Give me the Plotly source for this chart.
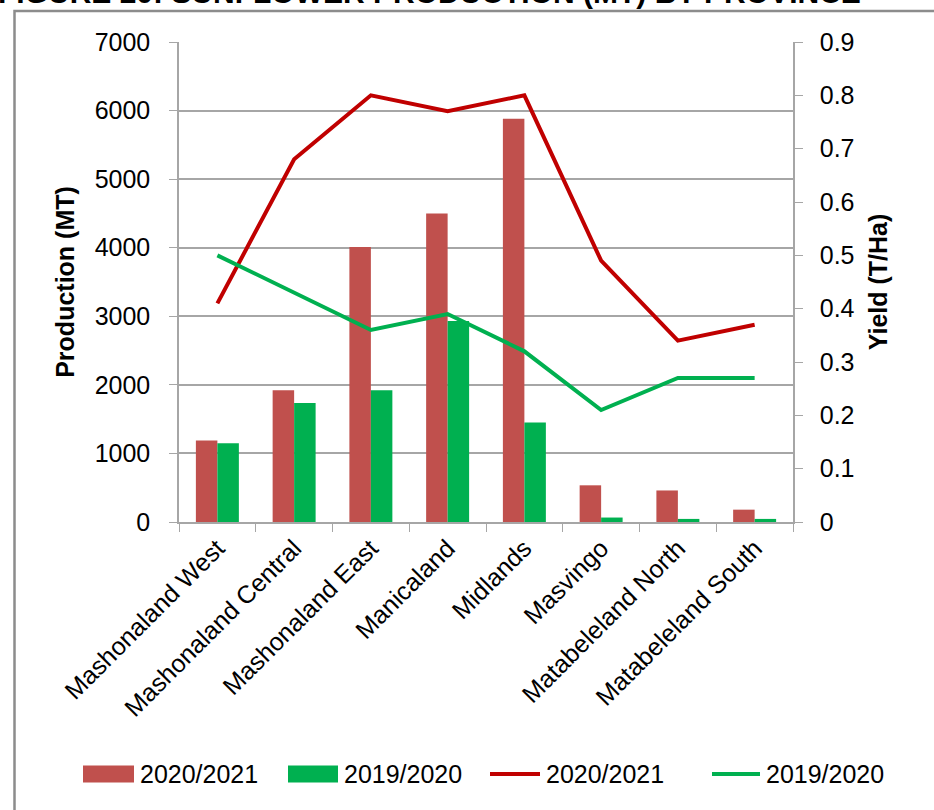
import plotly.graph_objects as go

provinces = ["Mashonaland West", "Mashonaland Central", "Mashonaland East", "Manicaland",
             "Midlands", "Masvingo", "Matabeleland North", "Matabeleland South"]
prod_2021 = [1190, 1920, 4010, 4500, 5880, 535, 460, 180]
prod_2020 = [1150, 1735, 1920, 2930, 1450, 65, 45, 45]
yield_2021 = [0.41, 0.68, 0.80, 0.77, 0.80, 0.49, 0.34, 0.37]
yield_2020 = [0.50, 0.43, 0.36, 0.39, 0.32, 0.21, 0.27, 0.27]
legend_labels = ["2020/2021", "2019/2020", "2020/2021", "2019/2020"]
title_text = "FIGURE 20: SUNFLOWER PRODUCTION (MT) BY PROVINCE"

FONT = "Liberation Sans, Arial, sans-serif"
GRID = "#a6a6a6"
C_BAR21, C_BAR20 = "#C0504D", "#00B050"
C_LN21, C_LN20 = "#C00000", "#00B050"

# plot area in pixels
L, R, T, B = 179, 793, 42, 522
W, H = 934, 810
pw, ph = R - L, B - T

def px(x):
    return (x - L) / pw

def py(y):
    return (B - y) / ph

fig = go.Figure()
fig.add_trace(go.Bar(x=provinces, y=prod_2021, name=legend_labels[0], marker_color=C_BAR21,
                     marker_line_width=0))
fig.add_trace(go.Bar(x=provinces, y=prod_2020, name=legend_labels[1], marker_color=C_BAR20,
                     marker_line_width=0))
fig.add_trace(go.Scatter(x=provinces, y=yield_2021, name=legend_labels[2], mode="lines",
                         line=dict(color=C_LN21, width=4), yaxis="y2"))
fig.add_trace(go.Scatter(x=provinces, y=yield_2020, name=legend_labels[3], mode="lines",
                         line=dict(color=C_LN20, width=4), yaxis="y2"))

fig.update_layout(
    width=W, height=H,
    margin=dict(l=L, r=W - R, t=T, b=H - B, autoexpand=False),
    paper_bgcolor="white", plot_bgcolor="white",
    font=dict(family=FONT, size=25, color="black"),
    barmode="group", bargap=0.44, bargroupgap=0,
    showlegend=False,
    xaxis=dict(type="category", tickangle=-45, showline=True, linecolor=GRID, linewidth=1.5,
               ticks="outside", tickson="boundaries", ticklen=8, tickcolor=GRID,
               showgrid=False, tickfont=dict(size=25), automargin=False),
    yaxis=dict(range=[0, 7000], dtick=1000, showline=True, linecolor=GRID, linewidth=1.5,
               ticks="outside", ticklen=8, tickcolor=GRID, showgrid=True, gridcolor=GRID,
               gridwidth=1.5, tickfont=dict(size=25), ticklabelstandoff=14, automargin=False,
               title=dict(text="<b>Production (MT)</b>", font=dict(size=25), standoff=13),
               zeroline=False),
    yaxis2=dict(range=[0, 0.9], dtick=0.1, overlaying="y", side="right", showline=True,
                linecolor=GRID, linewidth=1.5, ticks="outside", ticklen=8, tickcolor=GRID,
                showgrid=False, tickfont=dict(size=25), ticklabelstandoff=12,
                tickformat="~g", automargin=False,
                title=dict(text="<b>Yield (T/Ha)</b>", font=dict(size=25), standoff=16),
                zeroline=False),
)

fig.add_annotation(text="<b>" + title_text + "</b>", xref="paper", yref="paper",
                   x=px(-4), y=py(11), xanchor="left", yanchor="bottom",
                   showarrow=False, font=dict(size=30, family=FONT, color="black"))

fig.add_shape(type="path", xref="paper", yref="paper",
              path=f"M {px(14.5)} {py(900)} L {px(14.5)} {py(11)} L {px(960)} {py(11)}",
              line=dict(color="#8c8c8c", width=2.5), layer="below")

# manual legend (bar swatches are rectangles, line swatches are strokes)
legend_y = 774
swatches = [(83, 134, "bar", C_BAR21), (288, 338, "bar", C_BAR20),
            (490, 540, "line", C_LN21), (712, 760, "line", C_LN20)]
for (x0, x1, kind, col), label in zip(swatches, legend_labels):
    if kind == "bar":
        fig.add_shape(type="rect", xref="paper", yref="paper",
                      x0=px(x0), x1=px(x1), y0=py(legend_y + 8.5), y1=py(legend_y - 8.5),
                      fillcolor=col, line=dict(width=0))
    else:
        fig.add_shape(type="line", xref="paper", yref="paper",
                      x0=px(x0), x1=px(x1), y0=py(legend_y), y1=py(legend_y),
                      line=dict(color=col, width=4))
    fig.add_annotation(text=label, xref="paper", yref="paper", x=px(x1 + 4), y=py(legend_y),
                       xanchor="left", yanchor="middle", showarrow=False,
                       font=dict(size=25, family=FONT, color="black"))

fig.write_html("out.html", config={"displayModeBar": False},
               post_script="document.body.style.margin='0';document.body.style.overflow='hidden';")
